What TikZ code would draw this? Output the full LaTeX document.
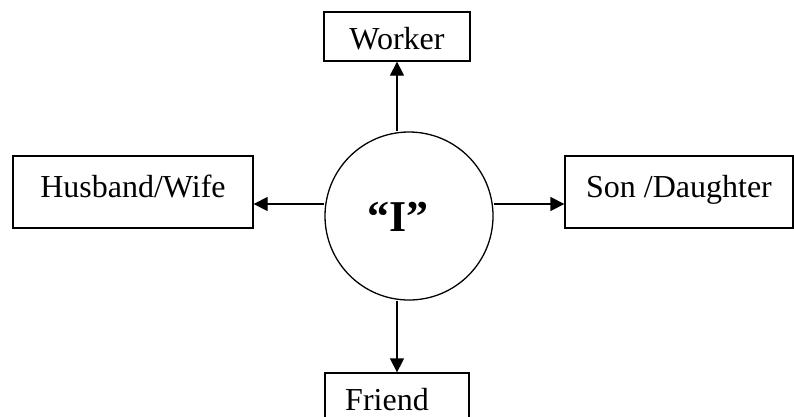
\documentclass[tikz,border=0pt]{standalone}
\usepackage{fontspec}
\setmainfont{Liberation Serif}
\usetikzlibrary{arrows.meta}
\tikzset{
  box/.style={draw, line width=1.3pt, inner sep=0pt, font=\fontsize{32}{32}\selectfont},
  arr/.style={line width=1.3pt, -{Triangle[length=14pt,width=14pt]}}
}
\begin{document}
\begin{tikzpicture}[x=1pt,y=-1pt]
        \useasboundingbox (0,0) rectangle (794,416);
        \clip (0,0) rectangle (794,416);
        % centre
        \node[circle, draw, line width=1.3pt, minimum size=168pt, inner sep=0pt] (me) at (409,216) {};
        \node[font=\bfseries\fontsize{44}{44}\selectfont, inner sep=0pt] (ilabel) at (398,217) {“I”};
        % boxes
        \node[box, minimum width=146pt, minimum height=49pt, text height=26pt, text depth=0pt] (wk) at (397,36.5) {Worker};
        \node[box, minimum width=240pt, minimum height=72pt, text height=20pt, text depth=10pt] (hw) at (133,192) {Husband/Wife};
        \node[box, minimum width=228pt, minimum height=72pt, text height=20pt, text depth=10pt] (sd) at (679,192) {Son /Daughter};
        \node[box, minimum width=144pt, minimum height=49pt, text height=26pt, text depth=0pt] (fr) at (397,397.5) {Friend\hspace*{20pt}};
        % arrows
        \coordinate (h) at (0,204);
        \draw[arr] (me.north -| wk.south) -- (wk.south);
        \draw[arr] (me.south -| fr.north) -- (fr.north);
        \draw[arr] (me.west |- h) -- (hw.east |- h);
        \draw[arr] (me.east |- h) -- (sd.west |- h);
\end{tikzpicture}
\end{document}
